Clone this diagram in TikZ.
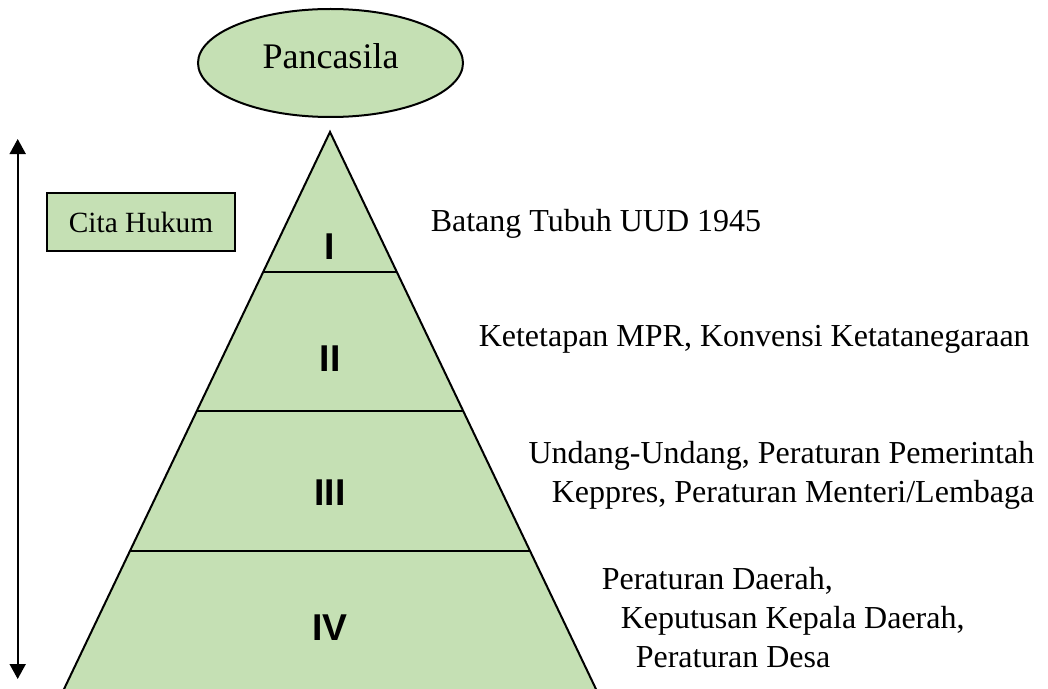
\documentclass[tikz,border=0pt]{standalone}
\usepackage{fontspec}
\setmainfont{Liberation Serif}
\newfontfamily\arialfont{Liberation Sans}
\usetikzlibrary{shapes.geometric,arrows.meta}
\newlength{\du}
\setlength{\du}{0.75pt}
\definecolor{dialinefill}{rgb}{0.772549, 0.878431, 0.705882}
\tikzset{
  levelnum/.style={font=\arialfont\bfseries\fontsize{28}{33}\selectfont, inner sep=0pt},
  leveltext/.style={font=\fontsize{24}{29}\selectfont, inner sep=0pt},
  tiphead/.tip={Triangle[width=12pt,length=11.25pt]},
}

\begin{document}
\begin{tikzpicture}
\pgftransformxscale{1.000000}
\pgftransformyscale{-1.000000}
\useasboundingbox (0\du,0\du) rectangle (1048\du,688\du);
\pgfsetlinewidth{1.500000\du}
% pyramid
\begin{scope}
\clip (0\du,0\du) rectangle (1048\du,688\du);
\draw[fill=dialinefill, line width=2.000000\du, line join=miter] (330.000000\du,132.000000\du)--(58.800000\du,700.000000\du)--(601.200000\du,700.000000\du)--cycle;
\end{scope}
\draw[line width=2.000000\du] (263.100000\du,272.000000\du)--(396.900000\du,272.000000\du);
\draw[line width=2.000000\du] (196.800000\du,411.000000\du)--(463.200000\du,411.000000\du);
\draw[line width=2.000000\du] (129.900000\du,551.000000\du)--(530.100000\du,551.000000\du);
% level numbers
\node[levelnum] (lvI) at (330.000000\du,247.000000\du){I};
\node[levelnum] (lvII) at (330.000000\du,358.500000\du){II};
\node[levelnum] (lvIII) at (330.000000\du,492.500000\du){III};
\node[levelnum] (lvIV) at (330.000000\du,628.000000\du){IV};
% top
\node[draw, ellipse, fill=dialinefill, line width=2.000000\du, minimum width=265\du, minimum height=108\du, text depth=14\du, font=\fontsize{27}{32}\selectfont] (pancasila) at (330.500000\du,63.000000\du){Pancasila};
\node[draw, fill=dialinefill, line width=2.000000\du, minimum width=188\du, minimum height=58\du, font=\fontsize{22}{26}\selectfont] (citahukum) at (141.000000\du,222.000000\du){Cita Hukum};
% arrow
\coordinate (arrtop) at (17.700000\du,139.000000\du);
\coordinate (arrbot) at (17.700000\du,679.000000\du);
\draw[line width=1.800000\du, tiphead-tiphead] (arrtop)--(arrbot);
% labels
\node[leveltext, anchor=base west] (txtI) at (430.000000\du,231.000000\du){Batang Tubuh UUD 1945};
\node[leveltext, anchor=base west] (txtII) at (478.000000\du,346.000000\du){Ketetapan MPR, Konvensi Ketatanegaraan};
\node[leveltext, anchor=north east, align=right] (txtIII) at (1035.000000\du,441.000000\du){Undang-Undang, Peraturan Pemerintah\\Keppres, Peraturan Menteri/Lembaga};
\node[leveltext, anchor=north west, align=left] (txtIV) at (601.000000\du,567.000000\du){Peraturan Daerah,\\\hspace*{19\du}Keputusan Kepala Daerah,\\\hspace*{34\du}Peraturan Desa};
\end{tikzpicture}
\end{document}
